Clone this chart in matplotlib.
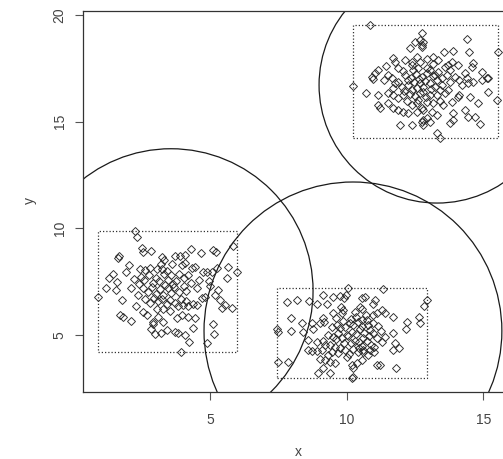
import numpy as np
import matplotlib
matplotlib.use("Agg")
import matplotlib.pyplot as plt
from matplotlib.patches import Ellipse, Rectangle

plt.rcParams.update({
    "font.family": ["Liberation Sans", "DejaVu Sans"],
    "font.size": 10,
})

# ---- data ----
c1_x = [2.26, 2.32, 2.50, 2.54, 2.83, 1.68, 1.65, 3.23, 3.32, 1.93,
        2.44, 2.62, 2.81, 3.05, 3.23, 3.42, 1.32, 1.59, 1.20, 1.56,
        0.91, 1.77, 2.29, 2.54, 1.71, 1.83, 2.10, 2.91, 2.93, 3.29,
        2.83, 2.99, 3.20, 3.42, 4.31, 3.72, 3.90, 4.09, 4.67, 5.12,
        5.21, 5.85, 5.98, 5.67, 5.61, 4.76, 4.88, 5.06, 5.25, 4.45,
        4.33, 3.97, 4.09, 5.00, 4.52, 4.82, 4.70, 5.18, 5.37, 5.55,
        5.80, 5.43, 5.12, 5.16, 4.88, 4.23, 3.94, 4.39, 4.09, 3.72,
        3.84, 4.45, 4.21, 3.97, 3.78, 4.52, 4.39, 4.21, 4.02, 3.84,
        2.47, 2.58, 2.77, 2.92, 3.02, 3.13, 3.31, 3.47, 3.58, 3.77,
        3.88, 4.06, 4.18, 2.53, 2.72, 2.86, 3.01, 3.17, 3.28, 3.46,
        3.56, 3.68, 3.86, 4.03, 4.13, 4.32, 2.63, 2.82, 2.94, 3.11,
        3.24, 3.41, 3.53, 3.72, 3.93, 4.11, 3.06, 3.29, 3.52, 2.41,
        3.36, 3.64, 3.19, 3.61, 2.21, 2.12, 2.36, 2.05, 1.45, 4.60,
        4.95, 5.30, 3.10, 2.70]
c1_y = [9.89, 9.61, 9.10, 8.88, 8.94, 8.72, 8.60, 8.67, 8.52, 7.97,
        8.10, 8.05, 8.12, 8.08, 8.10, 8.02, 7.66, 7.47, 7.22, 7.10,
        6.80, 6.64, 6.38, 6.07, 5.94, 5.85, 5.66, 5.63, 5.50, 5.63,
        5.28, 5.03, 5.08, 5.24, 9.03, 8.72, 8.72, 8.75, 8.83, 8.99,
        8.88, 9.19, 7.97, 8.20, 7.66, 7.97, 7.97, 7.97, 8.13, 8.20,
        8.13, 8.28, 8.36, 7.31, 7.19, 6.80, 6.72, 6.88, 6.64, 6.41,
        6.25, 6.25, 5.50, 5.03, 4.61, 4.66, 4.22, 5.32, 5.00, 5.16,
        5.08, 5.79, 5.86, 5.94, 5.79, 6.40, 6.45, 6.38, 6.42, 6.36,
        7.73, 7.57, 7.81, 7.43, 7.68, 7.52, 7.87, 7.58, 7.82, 7.53,
        7.88, 7.66, 7.83, 7.22, 7.02, 7.26, 6.93, 7.17, 6.88, 7.21,
        6.97, 7.24, 7.03, 7.28, 7.06, 7.42, 6.67, 6.51, 6.74, 6.57,
        6.71, 6.46, 6.63, 6.52, 6.68, 6.61, 6.22, 6.24, 6.12, 7.38,
        7.36, 7.41, 8.35, 8.31, 7.61, 7.18, 6.86, 8.30, 7.85, 7.60,
        7.55, 7.10, 5.85, 5.95]

c2_x = [10.06, 9.98, 9.91, 9.13, 9.49, 9.76, 7.81, 8.17, 8.64, 8.91,
        9.27, 9.78, 9.88, 9.51, 9.82, 7.95, 8.36, 8.72, 9.03, 9.15,
        9.17, 7.44, 7.50, 7.95, 8.42, 8.76, 9.45, 9.64, 9.76, 9.94,
        10.12, 9.33, 9.51, 9.70, 9.82, 10.00, 8.60, 8.91, 9.15, 9.21,
        9.39, 9.57, 9.76, 9.94, 8.60, 8.72, 8.91, 9.09, 9.03, 9.21,
        9.39, 9.57, 7.50, 7.87, 9.15, 9.39, 8.96, 10.22, 10.19, 11.34,
        10.67, 10.55, 11.04, 10.98, 10.49, 10.55, 11.28, 11.40, 11.10, 10.98,
        11.69, 12.20, 12.18, 12.66, 12.69, 12.95, 12.83, 11.71, 11.77, 11.93,
        11.71, 11.40, 11.28, 11.10, 10.98, 10.86, 10.79, 10.73, 11.10, 11.22,
        11.81, 10.24, 10.55, 10.37, 10.19, 10.79, 10.61, 10.10, 10.25, 10.40,
        10.55, 10.45, 10.60, 10.15, 10.30, 10.45, 10.60, 10.75, 10.90, 10.05,
        10.20, 10.35, 10.50, 10.65, 10.80, 10.25, 10.40, 10.55, 10.70, 10.35,
        10.15, 10.55, 9.90, 9.60, 9.70, 9.45, 9.30, 10.00, 10.85, 11.00,
        10.95, 11.15, 11.25, 11.00, 9.85, 9.60, 10.30]
c2_y = [7.19, 6.88, 6.72, 6.88, 6.80, 6.83, 6.56, 6.64, 6.61, 6.46,
        6.46, 6.30, 6.17, 6.05, 6.02, 5.79, 5.58, 5.55, 5.58, 5.79,
        5.63, 5.27, 5.16, 5.20, 5.16, 5.27, 5.39, 5.47, 5.32, 5.39,
        5.55, 5.00, 4.92, 5.08, 4.85, 5.00, 4.77, 4.69, 4.74, 4.53,
        4.53, 4.45, 4.38, 4.30, 4.28, 4.24, 4.26, 4.30, 3.86, 3.83,
        3.75, 3.68, 3.75, 3.75, 3.44, 3.21, 3.23, 3.44, 2.97, 7.17,
        6.80, 6.72, 6.64, 6.46, 6.33, 6.21, 6.17, 6.05, 6.02, 5.94,
        5.86, 5.63, 5.27, 5.83, 5.58, 6.64, 6.36, 5.08, 4.61, 4.38,
        4.30, 4.92, 4.69, 4.85, 5.08, 5.24, 5.47, 5.70, 3.60, 3.60,
        3.44, 3.05, 3.83, 3.68, 3.60, 4.06, 4.22, 4.12, 4.36, 4.21,
        4.46, 4.37, 4.31, 4.62, 4.74, 4.66, 4.86, 4.71, 4.54, 4.96,
        5.14, 5.06, 5.26, 5.11, 4.94, 5.46, 5.61, 5.41, 5.93, 5.84,
        5.76, 5.72, 4.61, 4.79, 4.16, 4.21, 4.04, 3.96, 4.31, 4.19,
        5.56, 5.41, 5.19, 4.44, 5.66, 5.79, 6.06]

c3_x = [10.86, 10.25, 10.70, 11.14, 10.94, 10.98, 11.04, 11.14, 11.43, 11.71,
        11.77, 11.89, 12.14, 12.32, 12.50, 12.69, 12.75, 12.56, 12.69, 12.38,
        12.44, 12.62, 11.65, 11.77, 11.89, 12.02, 11.71, 11.53, 11.71, 11.89,
        12.07, 12.26, 12.38, 12.56, 12.69, 12.81, 11.16, 11.22, 11.53, 11.71,
        11.89, 12.07, 12.26, 12.38, 12.56, 12.75, 12.56, 11.95, 12.38, 12.81,
        12.81, 14.39, 13.90, 14.49, 12.75, 12.81, 12.75, 13.15, 13.36, 13.17,
        14.09, 14.64, 14.58, 15.55, 12.93, 13.05, 13.72, 13.78, 13.66, 14.33,
        14.39, 14.94, 15.13, 14.94, 15.18, 14.21, 14.45, 14.64, 13.30, 13.48,
        13.48, 13.23, 12.81, 13.05, 13.30, 13.60, 13.72, 14.09, 14.12, 14.52,
        14.82, 15.18, 15.49, 13.17, 13.42, 13.54, 13.85, 12.81, 13.11, 13.30,
        13.90, 14.33, 14.45, 14.70, 14.88, 13.78, 13.90, 12.75, 12.93, 13.05,
        13.30, 13.42, 12.15, 12.35, 12.55, 12.75, 12.95, 13.15, 13.35, 12.25,
        12.45, 12.65, 12.85, 13.05, 13.25, 12.10, 12.30, 12.50, 12.70, 12.90,
        13.10, 13.40, 12.20, 12.60, 12.95, 13.60, 13.85, 13.95, 14.10, 13.80,
        12.40, 12.95, 13.55, 11.35, 11.50, 12.05]
c3_y = [19.53, 16.69, 16.33, 16.25, 17.11, 17.00, 17.27, 17.43, 17.63, 17.97,
        17.82, 17.53, 17.89, 18.44, 18.75, 18.83, 18.52, 18.05, 17.82, 17.66,
        17.43, 17.51, 17.04, 16.80, 16.88, 16.64, 16.60, 16.33, 16.25, 16.10,
        16.25, 16.72, 16.49, 16.57, 16.80, 16.64, 15.79, 15.63, 15.86, 15.66,
        15.55, 15.47, 15.40, 15.79, 15.86, 15.63, 15.47, 14.85, 14.85, 14.85,
        15.08, 18.88, 18.32, 18.26, 19.15, 18.75, 18.60, 18.05, 17.89, 17.69,
        17.66, 17.74, 17.58, 18.28, 17.51, 17.43, 17.66, 17.43, 17.19, 17.27,
        17.04, 17.35, 17.04, 16.96, 17.07, 16.72, 16.80, 16.88, 16.96, 17.04,
        16.72, 16.64, 16.41, 16.25, 16.25, 16.33, 16.49, 16.17, 16.25, 16.17,
        15.86, 16.38, 16.02, 15.86, 15.97, 15.79, 15.91, 15.55, 15.47, 15.32,
        15.40, 15.55, 15.24, 15.24, 14.88, 14.93, 15.08, 15.00, 15.16, 15.00,
        14.46, 14.22, 17.20, 17.05, 17.25, 17.10, 17.30, 17.15, 17.35, 16.95,
        16.85, 17.00, 16.90, 16.80, 17.20, 16.45, 16.30, 16.20, 16.35, 16.15,
        16.55, 16.50, 15.95, 16.00, 15.90, 17.55, 17.80, 17.10, 16.95, 16.85,
        17.80, 17.95, 18.25, 16.95, 17.20, 17.40]

# circles: centre and radius (radius in x units, drawn round on screen)
circle_x = [3.57, 10.23, 13.31]
circle_y = [7.07, 5.19, 16.72]
circle_r = [5.20, 5.45, 4.32]

XLIM = (0.34, 16.49)
YLIM = (2.35, 20.19)

fig = plt.figure(figsize=(5.03, 4.59), dpi=100)
# axes runs past the right edge of the picture, as in the reference
ax = fig.add_axes([82.7 / 503, (459 - 391.5) / 459, 441.3 / 503, 380.5 / 459])
ax.set_xlim(*XLIM)
ax.set_ylim(*YLIM)

pt_color = "#2a2a2a"
for cx, cy in [(c1_x, c1_y), (c2_x, c2_y), (c3_x, c3_y)]:
    ax.plot(cx, cy, linestyle="none", marker="D", markersize=3.9,
            mfc="none", mec=pt_color, mew=0.65)
    x0, x1 = min(cx), max(cx)
    y0, y1 = min(cy), max(cy)
    ax.add_patch(Rectangle((x0, y0), x1 - x0, y1 - y0, fill=False,
                           edgecolor="#333333", linewidth=0.9,
                           linestyle=(0, (1, 1.6))))

# pixels per data unit on each axis, to keep circles round
bbox = ax.get_position()
w_px = bbox.width * fig.get_figwidth() * fig.dpi
h_px = bbox.height * fig.get_figheight() * fig.dpi
sx = w_px / (XLIM[1] - XLIM[0])
sy = h_px / (YLIM[1] - YLIM[0])
for cx, cy, r in zip(circle_x, circle_y, circle_r):
    ax.add_patch(Ellipse((cx, cy), 2 * r, 2 * r * sx / sy, fill=False,
                         edgecolor="#1a1a1a", linewidth=0.9))

ax.set_xticks([5, 10, 15])
ax.set_yticks([5, 10, 15, 20])
ax.tick_params(axis="both", direction="out", length=5.5, width=0.8,
               colors="#555555", labelcolor="#444444", labelsize=10)
ax.tick_params(axis="x", pad=10)
ax.tick_params(axis="y", pad=6, labelrotation=90)
for lab in ax.get_yticklabels():
    lab.set_verticalalignment("center")
for sp in ax.spines.values():
    sp.set_color("#333333")
    sp.set_linewidth(0.9)

fig.text(298 / 503, 1 - 452 / 459, "x", ha="center", va="center",
         fontsize=10, color="#444444")
fig.text(30 / 503, 1 - 201 / 459, "y", ha="center", va="center",
         rotation=90, fontsize=10, color="#444444")

fig.savefig("out.png", dpi=100)
